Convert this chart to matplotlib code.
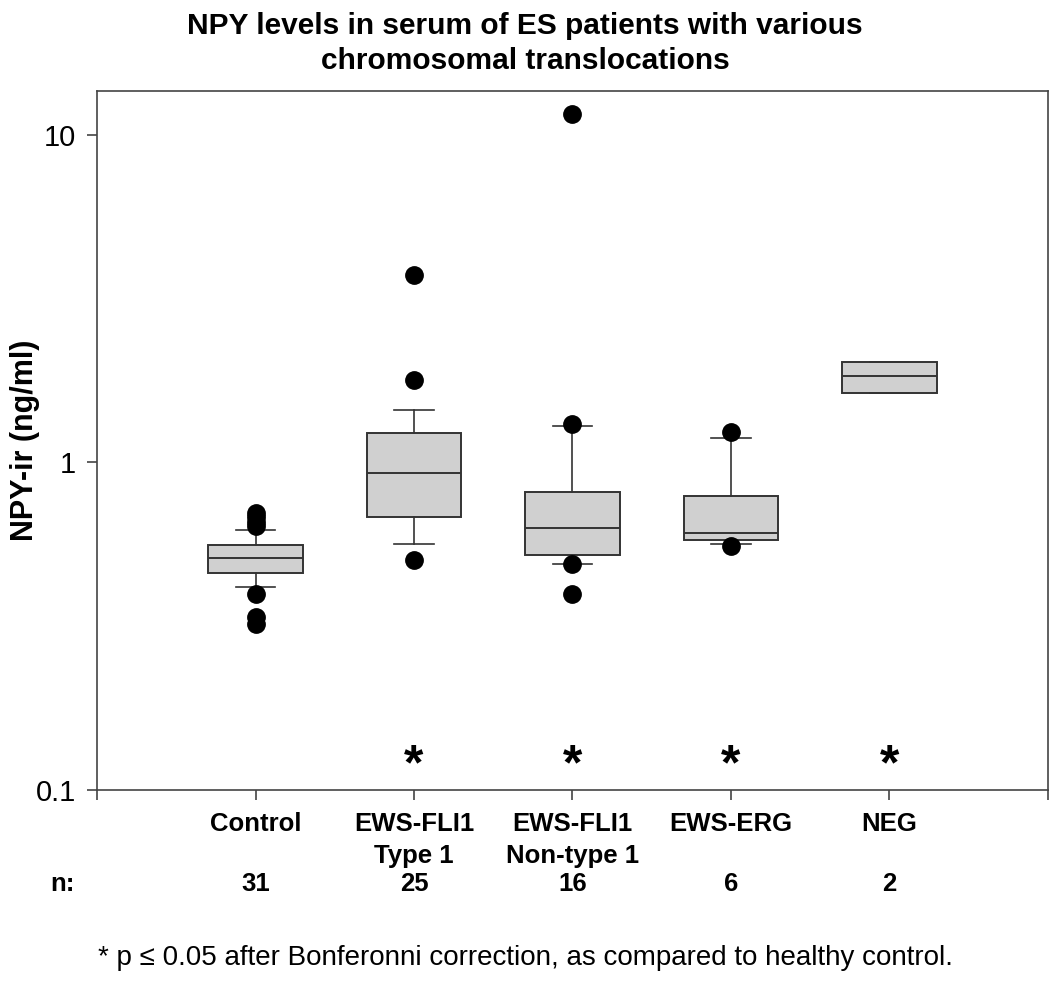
import matplotlib.pyplot as plt
from matplotlib.transforms import blended_transform_factory

plt.rcParams["font.family"] = ["Liberation Sans", "DejaVu Sans"]

# groups and box statistics (ng/ml)
groups = ["Control", "EWS-FLI1\nType 1", "EWS-FLI1\nNon-type 1", "EWS-ERG", "NEG"]
n_counts = [31, 25, 16, 6, 2]
q1 = [0.46, 0.68, 0.52, 0.58, 1.63]
median = [0.51, 0.93, 0.63, 0.61, 1.83]
q3 = [0.56, 1.23, 0.81, 0.79, 2.03]
whisker_lo = [0.416, 0.564, 0.489, 0.562, 1.63]
whisker_hi = [0.62, 1.45, 1.29, 1.19, 2.03]
outliers = [
    [0.70, 0.68, 0.66, 0.64, 0.397, 0.337, 0.321],
    [3.74, 1.79, 0.504],
    [11.6, 1.31, 0.49, 0.396],
    [1.236, 0.557],
    [],
]
significant = [False, True, True, True, True]
star_level = 0.118

stats = []
for i in range(len(groups)):
    stats.append(
        {
            "med": median[i],
            "q1": q1[i],
            "q3": q3[i],
            "whislo": whisker_lo[i],
            "whishi": whisker_hi[i],
            "fliers": outliers[i],
        }
    )

fig = plt.figure(figsize=(10.5, 9.97), dpi=100)
ax = fig.add_axes([0.0924, 0.2076, 0.9056, 0.7011])

positions = list(range(1, len(groups) + 1))
edge = "#333333"
ax.bxp(
    stats,
    positions=positions,
    widths=0.595,
    patch_artist=True,
    boxprops=dict(facecolor="#d0d0d0", edgecolor=edge, linewidth=1.4),
    medianprops=dict(color=edge, linewidth=1.4),
    whiskerprops=dict(color=edge, linewidth=1.2),
    capprops=dict(color=edge, linewidth=1.2),
    capwidths=0.25,
    flierprops=dict(marker="o", markerfacecolor="black", markeredgecolor="black",
                    markersize=12.5, linestyle="none"),
)

ax.set_yscale("log")
ax.set_ylim(0.1, 13.6)
ax.set_xlim(0, 6)
ax.set_yticks([0.1, 1, 10])
ax.set_yticklabels(["0.1", "1", "10"])
ax.minorticks_off()
ax.set_xticks(range(0, 7))
ax.set_xticklabels([""] + groups + [""], fontweight="bold", fontsize=18.5)
ax.tick_params(axis="both", direction="out", length=7, width=1.2, color="#444444")
ax.tick_params(axis="y", labelsize=21, pad=8)
ax.tick_params(axis="x", pad=9)
for lab in ax.get_xticklabels():
    lab.set_linespacing(1.4)
for sp in ax.spines.values():
    sp.set_color("#444444")
    sp.set_linewidth(1.2)

ax.set_ylabel("NPY-ir (ng/ml)", fontsize=22, fontweight="bold")
ax.yaxis.set_label_coords(-0.06, 0.5)

# significance stars
for i, sig in enumerate(significant):
    if sig:
        ax.text(positions[i], star_level, "*", fontsize=36, fontweight="bold",
                ha="center", va="center")

# n row
trans = blended_transform_factory(ax.transData, ax.transAxes)
ax.text(-0.22, -0.135, "n:", transform=trans, fontsize=18.5, fontweight="bold",
        ha="center", va="center")
for i, n in enumerate(n_counts):
    ax.text(positions[i], -0.135, str(n), transform=trans, fontsize=18.5,
            fontweight="bold", ha="center", va="center")

fig.text(0.5, 0.988, "NPY levels in serum of ES patients with various\nchromosomal translocations",
         fontsize=21.5, fontweight="bold", ha="center", va="top", linespacing=1.3)
fig.text(0.5, 0.039, "* p \u2264 0.05 after Bonferonni correction, as compared to healthy control.",
         fontsize=20, ha="center", va="center")

fig.savefig("out.png", dpi=100)
